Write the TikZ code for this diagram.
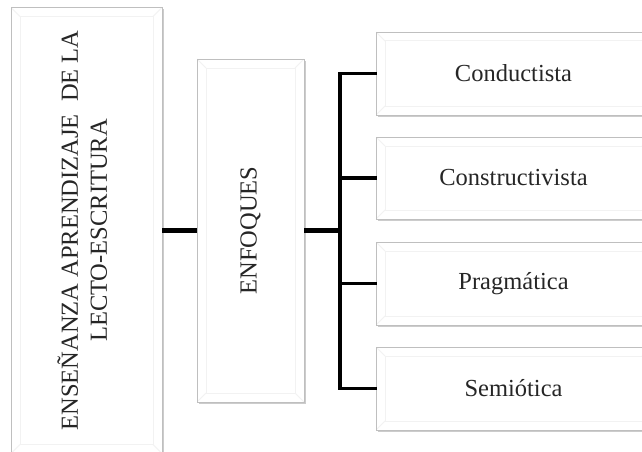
\documentclass[tikz,border=0pt]{standalone}
\usepackage{fontspec}
\setmainfont{Liberation Serif}
\usetikzlibrary{shadows}
\begin{document}
\begin{tikzpicture}[x=1pt,y=-1pt,
  bev/.style={draw=gray!50, line width=0.9pt, fill=white, inner sep=0pt,
    drop shadow={shadow xshift=1.6pt, shadow yshift=-1.6pt, fill=black!40, opacity=0.5},
    path picture={
      \draw[gray!10, line width=1pt]
        ([xshift=9pt,yshift=-9pt]path picture bounding box.north west) rectangle
        ([xshift=-9pt,yshift=9pt]path picture bounding box.south east);
      \draw[gray!10, line width=1pt]
        (path picture bounding box.north west) -- ([xshift=9pt,yshift=-9pt]path picture bounding box.north west)
        (path picture bounding box.north east) -- ([xshift=-9pt,yshift=-9pt]path picture bounding box.north east)
        (path picture bounding box.south west) -- ([xshift=9pt,yshift=9pt]path picture bounding box.south west)
        (path picture bounding box.south east) -- ([xshift=-9pt,yshift=9pt]path picture bounding box.south east);
    }},
  conn/.style={draw=black, line width=4.5pt},
  branch/.style={draw=black, line width=3.5pt, line cap=rect},
  lbl/.style={font=\fontsize{24.5}{29}\selectfont, text=black!85}
]
\useasboundingbox (0,0) rectangle (642,452);
\clip (0,0) rectangle (642,452);

\node[bev, lbl, minimum width=151pt, minimum height=446pt] (L) at (86.5,230.5)
  {\rotatebox{90}{\begin{tabular}{@{}c@{}}ENSEÑANZA APRENDIZAJE\ \ DE LA\\ LECTO-ESCRITURA\end{tabular}}};
\node[bev, lbl, minimum width=107pt, minimum height=343pt] (E) at (250.5,230.5)
  {\rotatebox{90}{ENFOQUES}};

\node[bev, lbl, minimum width=275pt, minimum height=83pt] (B1) at (513.5,73.5) {Conductista};
\node[bev, lbl, minimum width=275pt, minimum height=82pt] (B2) at (513.5,178) {Constructivista};
\node[bev, lbl, minimum width=275pt, minimum height=83pt] (B3) at (513.5,283.5) {Pragmática};
\node[bev, lbl, minimum width=275pt, minimum height=83pt] (B4) at (513.5,388.5) {Semiótica};

\coordinate (bus) at (340,230.5);
\draw[conn] (L.east |- E.west) -- (E.west);
\draw[conn] (E.east) -- (bus);
\draw[branch] (bus |- B1.west) -- (bus |- B4.west);
\foreach \b in {B1,B2,B3,B4}
  \draw[branch] (bus |- \b.west) -- (\b.west);
\end{tikzpicture}
\end{document}
